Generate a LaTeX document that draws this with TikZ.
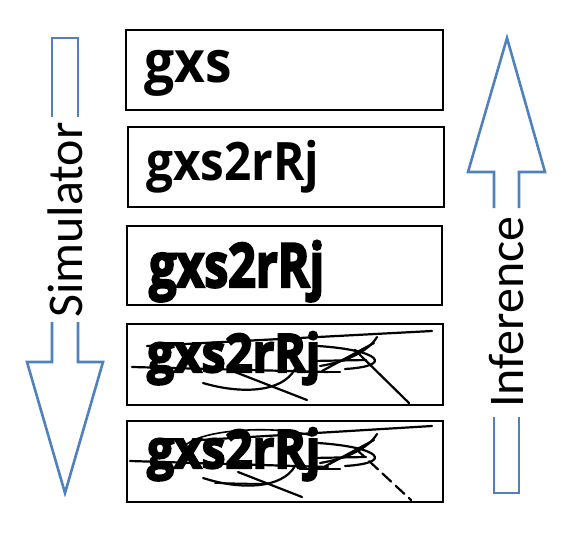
\documentclass[tikz,border=0pt]{standalone}
\usepackage{fontspec}
\setmainfont{Carlito}
\newfontfamily\capfont{Open Sans}
\newfontfamily\blurfont[FakeBold=4]{Open Sans}
\definecolor{arrowblue}{HTML}{4F81BD}
\tikzset{
  box/.style={draw=black, line width=2.2pt, inner sep=0pt},
  captext/.style={font=\capfont\bfseries\fontsize{53}{58}\selectfont, inner sep=0pt, anchor=base west},
  blurtext/.style={font=\blurfont\bfseries\fontsize{53}{58}\selectfont, inner sep=0pt, anchor=base west},
  lab/.style={font=\fontsize{50}{54}\selectfont, inner sep=0pt, rotate=90},
  bigarrow/.style={draw=arrowblue, line width=2.6pt, miter limit=10},
  noise/.style={draw=black, line width=2.2pt, line cap=round},
}
\begin{document}
\begin{tikzpicture}[x=1pt,y=-1pt]
\useasboundingbox (0,0) rectangle (570,544);
% boxes
\node[box, minimum width=317pt, minimum height=80pt] (b1) at (284.5,70) {};
\node[box, minimum width=316pt, minimum height=80pt] (b2) at (286,167) {};
\node[box, minimum width=315pt, minimum height=79pt] (b3) at (284.5,265.5) {};
\node[box, minimum width=316pt, minimum height=81pt] (b4) at (285,364.5) {};
\node[box, minimum width=316pt, minimum height=81pt] (b5) at (285,461.5) {};
% texts
\node[captext, font=\capfont\bfseries\fontsize{58}{62}\selectfont, xscale=0.92] (t1) at (144,82) {gxs};
\node[captext, xscale=0.9] (t2) at (146,180) {gxs2rRj};
\node[blurtext, xscale=0.91, yscale=1.15] (t3) at (149,287) {gxs2rRj};
\node[blurtext, xscale=0.9] (t4) at (147,372) {gxs2rRj};
\node[blurtext, xscale=0.9] (t5) at (147,468) {gxs2rRj};
% noise box 4
\draw[noise] (147,346) -- (432,331);
\draw[noise] (132,367) -- (328,372);
\draw[noise] (203,383) .. controls (240,394) and (282,393) .. (295,369);
\draw[noise] (235,372) -- (307,400);
\draw[noise] (355,350) -- (409,403);
\draw[noise] (377,337) .. controls (368,352) and (345,362) .. (320,366);
\draw[noise] (318,346) .. controls (380,350) and (395,366) .. (345,369);
\draw[noise] (322,371) -- (374,343);
\draw[noise] (312,361) -- (366,360);
\draw[noise] (300,372) -- (340,372);
% noise box 5
\draw[noise] (200,440) -- (432,426);
\draw[noise, line width=1.6pt] (182,449) .. controls (195,428) and (280,425) .. (312,436);
\draw[noise] (130,461) -- (328,467);
\draw[noise, line width=1.8pt] (215,483) -- (265,484);
\draw[noise] (238,472) -- (302,497);
\draw[noise] (203,478) .. controls (240,490) and (282,489) .. (295,466);
\draw[noise, dash pattern=on 12pt off 6pt] (356,449) -- (411,500);
\draw[noise] (377,434) .. controls (368,449) and (345,459) .. (320,463);
\draw[noise] (318,443) .. controls (380,447) and (395,463) .. (345,466);
\draw[noise] (322,468) -- (374,440);
\draw[noise] (312,458) -- (366,457);
\draw[noise] (300,469) -- (340,469);
% simulator arrow
\coordinate (s1) at (52,117);
\coordinate (s2) at (78,117);
\draw[bigarrow] (s1) -- (52,38) -- (78,38) -- (s2);
\draw[bigarrow] (52,322) -- (52,362) -- (27,362) -- (65,493) -- (103,362) -- (78,362) -- (78,322);
\node[lab] (sim) at (65,220) {Simulator};
% inference arrow
\draw[bigarrow] (494,208) -- (494,172) -- (468,172) -- (507,38) -- (545,172) -- (519,172) -- (519,208);
\draw[bigarrow] (494,417) -- (494,493) -- (519,493) -- (519,417);
\node[lab] (inf) at (507,312) {Inference};
\end{tikzpicture}
\end{document}
